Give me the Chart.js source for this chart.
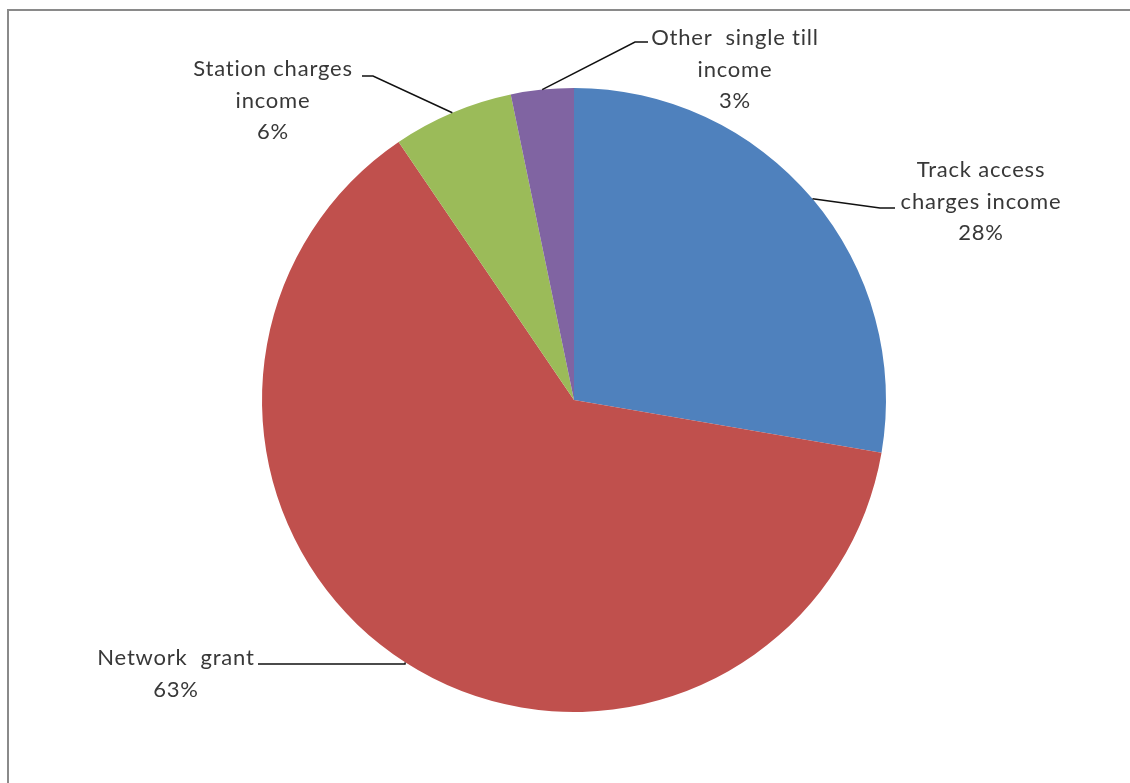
<!DOCTYPE html>
<html>
<head>
<meta charset="utf-8">
<script src="https://cdn.jsdelivr.net/npm/chart.js@4.4.0/dist/chart.umd.min.js"></script>
<style>
  html, body { margin: 0; padding: 0; background: #fff; }
  #wrap { width: 1130px; height: 783px; position: relative; }
</style>
</head>
<body>
<div id="wrap"><canvas id="chartIngresos" width="1130" height="783"></canvas></div>
<script>
// datos del grafico
const categorias = ['Track access charges income', 'Network grant', 'Station charges income', 'Other single till income']
const valores = [27.7, 62.8, 6.25, 3.25]
const etiquetasPct = ['28%', '63%', '6%', '3%']
const colores = ['#4F81BD', '#C0504D', '#9BBB59', '#8064A2']

// lineas de texto de cada etiqueta
const lineasEtiqueta = [
    ['Track access', 'charges income'],
    ['Network  grant'],
    ['Station charges', 'income'],
    ['Other  single till', 'income']
]

// donde va cada etiqueta (desplazamiento desde el centro del pie) y el codo de la linea
const posEtiquetas = [
    { tx: 407, ty: -230, codo: [306, -192], fin: [321, -192] },
    { tx: -398, ty: 258, codo: [-169, 264], fin: [-316, 264] },
    { tx: -301, ty: -331, codo: [-201, -324], fin: [-212, -324] },
    { tx: 161, ty: -362, codo: [61, -358], fin: [74, -358] }
]

const marcoPlugin = {
    id: 'marco',
    beforeDraw(chart) {
        const ctx = chart.ctx
        ctx.save()
        ctx.strokeStyle = '#8a8a8a'
        ctx.lineWidth = 2
        ctx.beginPath()
        ctx.moveTo(8, 783)
        ctx.lineTo(8, 10)
        ctx.lineTo(1130, 10)
        ctx.stroke()
        ctx.restore()
    }
}

const etiquetasPlugin = {
    id: 'etiquetas',
    afterDatasetsDraw(chart) {
        const ctx = chart.ctx
        const meta = chart.getDatasetMeta(0)
        ctx.save()
        meta.data.forEach((arc, i) => {
            const p = arc.getProps(['x', 'y', 'startAngle', 'endAngle', 'outerRadius'], true)
            const mid = (p.startAngle + p.endAngle) / 2
            const sx = p.x + Math.cos(mid) * p.outerRadius
            const sy = p.y + Math.sin(mid) * p.outerRadius
            const pos = posEtiquetas[i]
            // linea guia
            ctx.strokeStyle = '#111'
            ctx.lineWidth = 1.5
            ctx.beginPath()
            ctx.moveTo(sx, sy)
            ctx.lineTo(p.x + pos.codo[0], p.y + pos.codo[1])
            ctx.lineTo(p.x + pos.fin[0], p.y + pos.fin[1])
            ctx.stroke()
            // texto
            ctx.fillStyle = '#383838'
            ctx.font = '22px Lato, "Open Sans", sans-serif'
            ctx.letterSpacing = '0.8px'
            ctx.textAlign = 'center'
            ctx.textBaseline = 'middle'
            const lineas = lineasEtiqueta[i].concat([etiquetasPct[i]])
            lineas.forEach((l, k) => {
                ctx.fillText(l, p.x + pos.tx, p.y + pos.ty + k * 31.5)
            })
        })
        ctx.restore()
    }
}

const ctxIngresos = document.querySelector('#chartIngresos').getContext('2d')
const chart = new Chart(ctxIngresos, {
    type: 'pie',
    data: {
        labels: categorias,
        datasets: [{
            data: valores,
            backgroundColor: colores,
            borderWidth: 0
        }]
    },
    options: {
        responsive: false,
        animation: false,
        layout: { padding: { left: 262, right: 244, top: 88, bottom: 71 } },
        plugins: {
            legend: { display: false },
            tooltip: { enabled: false }
        }
    },
    plugins: [marcoPlugin, etiquetasPlugin]
})
</script>
</body>
</html>
